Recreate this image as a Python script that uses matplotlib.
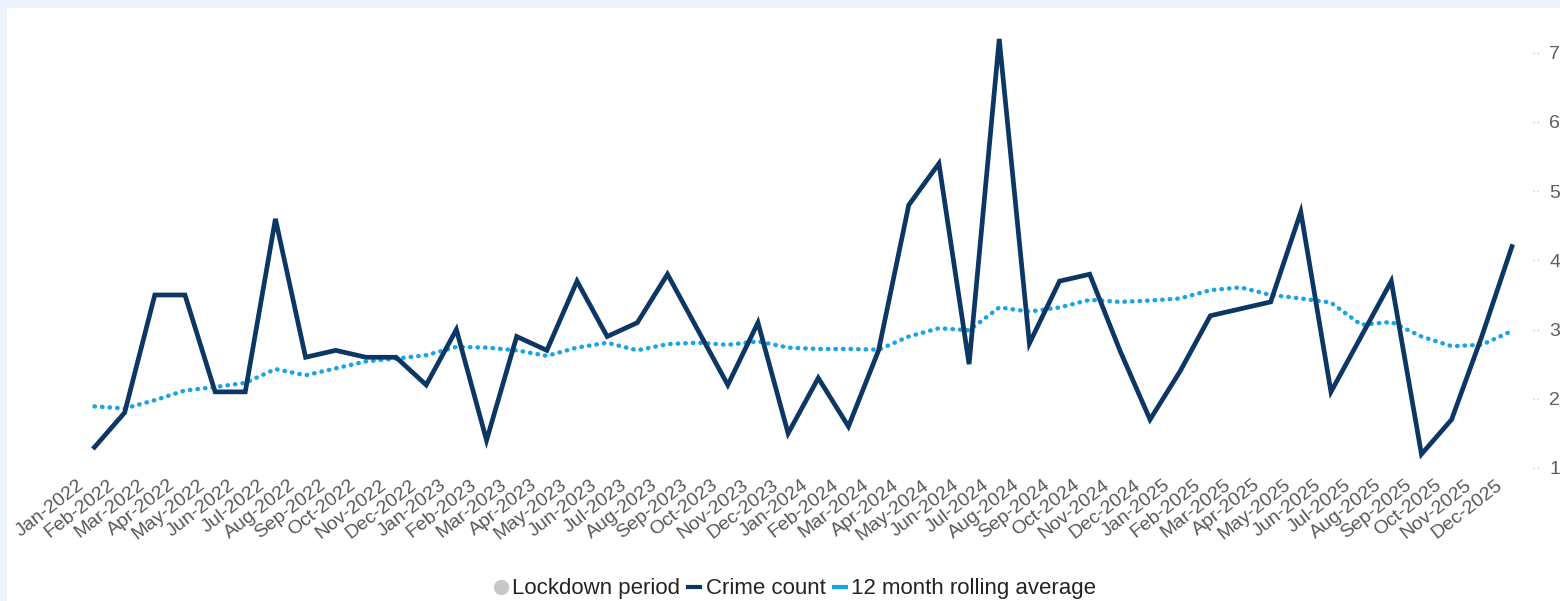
import matplotlib.pyplot as plt
from matplotlib.lines import Line2D
from matplotlib.patches import Rectangle
import matplotlib.transforms as mtransforms

# months Jan-2022 .. Dec-2025
months = ['Jan', 'Feb', 'Mar', 'Apr', 'May', 'Jun', 'Jul', 'Aug', 'Sep', 'Oct', 'Nov', 'Dec']
years = [2022, 2023, 2024, 2025]
labels = ['%s-%d' % (m, y) for y in years for m in months]

crime_count = [13, 18, 35, 35, 21, 21, 46, 26, 27, 26, 26, 22,
               30, 14, 29, 27, 37, 29, 31, 38, 30, 22, 31, 15,
               23, 16, 27, 48, 54, 25, 72, 28, 37, 38, 27, 17,
               24, 32, 33, 34, 47, 21, 29, 37, 12, 17, 29, 42]

rolling_avg = [18.9, 18.6, 19.8, 21.2, 21.7, 22.3, 24.3, 23.4, 24.4, 25.4, 25.8, 26.3,
               27.5, 27.4, 27.0, 26.2, 27.4, 28.1, 27.0, 27.9, 28.1, 27.8, 28.3, 27.4,
               27.2, 27.2, 27.1, 29.0, 30.2, 29.9, 33.2, 32.6, 33.2, 34.3, 34.0, 34.2,
               34.5, 35.7, 36.1, 35.0, 34.5, 33.9, 30.7, 31.1, 29.0, 27.6, 27.8, 29.8]

yticks = [10, 20, 30, 40, 50, 60, 70]

plt.rcParams['font.family'] = ['Liberation Sans', 'DejaVu Sans']

fig = plt.figure(figsize=(15.6, 6.01), dpi=100)
fig.patch.set_facecolor('#EEF4FC')
# white report panel
fig.patches.append(Rectangle((7 / 1560, 0), 1, 1 - 8 / 601, transform=fig.transFigure,
                             facecolor='white', edgecolor='none', zorder=-10))

ax = fig.add_axes([79.4 / 1560, 0.1983, (1527 - 79.4) / 1560, 0.9582 - 0.1983])
ax.patch.set_alpha(0)

x = list(range(len(labels)))
ax.plot(x, rolling_avg, color='#1AA3E6', lw=3.2, linestyle=(0, (0.1, 1.6)),
        dash_capstyle='round', zorder=2)
ax.plot(x, crime_count, color='#0C3765', lw=3.4, solid_joinstyle='miter', zorder=3)

ax.set_xlim(-0.5, len(labels) - 0.5)
ax.set_ylim(8, 74)
for s in ax.spines.values():
    s.set_visible(False)

ax.yaxis.tick_right()
ax.set_yticks(yticks)
ax.set_yticklabels([str(v) for v in yticks], fontsize=14, color='#605E5C')
ax.tick_params(axis='y', length=0, pad=16)
ax.hlines(yticks, 1.004, 1.01, transform=ax.get_yaxis_transform(), colors='#C8C6C4',
          linestyles=(0, (1, 2)), lw=1, clip_on=False)

ax.set_xticks(x)
ax.set_xticklabels(labels, fontsize=14, color='#5A5856', rotation=38,
                   ha='right', va='center', rotation_mode='anchor')
ax.tick_params(axis='x', length=0, pad=1)
off = mtransforms.ScaledTranslation(-12 / 100, 0, fig.dpi_scale_trans)
for t in ax.get_xticklabels():
    t.set_transform(t.get_transform() + off)

handles = [
    Line2D([], [], marker='o', color='none', markerfacecolor='#C8C8C8',
           markeredgecolor='none', markersize=11),
    Line2D([], [], color='#0C3765', lw=3),
    Line2D([], [], color='#1AA3E6', lw=3),
]
fig.legend(handles, ['Lockdown period', 'Crime count', '12 month rolling average'],
           loc='center', bbox_to_anchor=(0.51, 0.02), ncol=3, frameon=False,
           fontsize=16, handlelength=0.55, handletextpad=0.25, columnspacing=0.35,
           labelcolor='#252423')

fig.savefig('out.png', dpi=100, facecolor=fig.get_facecolor())
